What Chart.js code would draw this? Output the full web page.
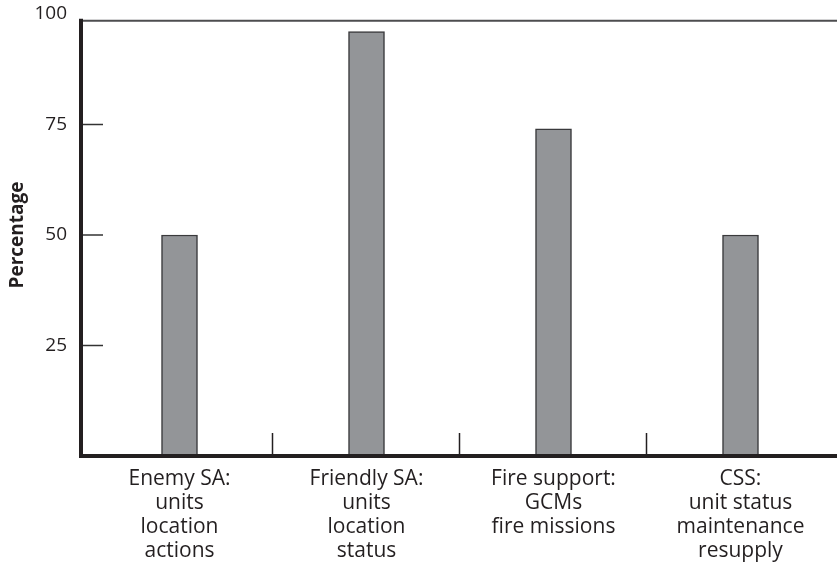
<!DOCTYPE html>
<html>
<head>
<meta charset="utf-8">
<script src="https://cdn.jsdelivr.net/npm/chart.js@4"></script>
<style>
  html, body { margin: 0; padding: 0; background: #ffffff; }
  #wrap { width: 837px; height: 562px; }
</style>
</head>
<body>
<div id="wrap"><canvas id="pctChart" width="837" height="562"></canvas></div>
<script>
const categories = [
    ['Enemy SA:', 'units', 'location', 'actions'],
    ['Friendly SA:', 'units', 'location', 'status'],
    ['Fire support:', 'GCMs', 'fire missions'],
    ['CSS:', 'unit status', 'maintenance', 'resupply']
];
const percentages = [50, 96, 74, 50];
const yTicks = [25, 50, 75, 100];

const inkColor = '#231f20';

// axis lines, inward ticks and category separators
const frameLines = {
    id: 'frameLines',
    afterDatasetsDraw(chart) {
        const ctx = chart.ctx;
        const x = chart.scales.x;
        const y = chart.scales.y;
        const area = chart.chartArea;
        const axisX = area.left - 5;
        const topY = y.getPixelForValue(98.5);
        const baseY = y.getPixelForValue(0);
        ctx.save();

        // top border
        ctx.strokeStyle = '#4d4d4f';
        ctx.lineWidth = 2;
        ctx.beginPath();
        ctx.moveTo(axisX, topY);
        ctx.lineTo(chart.width, topY);
        ctx.stroke();

        // y tick marks (inside)
        ctx.strokeStyle = '#333333';
        ctx.lineWidth = 1.5;
        yTicks.filter(v => v < 98).forEach(v => {
            const py = y.getPixelForValue(v);
            ctx.beginPath();
            ctx.moveTo(axisX, py);
            ctx.lineTo(axisX + 22, py);
            ctx.stroke();
        });

        // separators between categories
        ctx.strokeStyle = inkColor;
        for (let i = 0; i < categories.length - 1; i++) {
            const px = Math.round((x.getPixelForValue(i) + x.getPixelForValue(i + 1)) / 2) - 0.5;
            ctx.beginPath();
            ctx.moveTo(px, baseY);
            ctx.lineTo(px, baseY - 23);
            ctx.stroke();
        }

        // heavy left and bottom axes
        ctx.strokeStyle = inkColor;
        ctx.lineWidth = 4;
        ctx.lineCap = 'square';
        ctx.beginPath();
        ctx.moveTo(axisX, topY);
        ctx.lineTo(axisX, baseY);
        ctx.lineTo(chart.width, baseY);
        ctx.stroke();
        ctx.restore();
    }
};

const ctx = document.getElementById('pctChart').getContext('2d');
const pctChart = new Chart(ctx, {
    type: 'bar',
    data: {
        labels: categories,
        datasets: [{
            label: 'Percentage',
            data: percentages,
            backgroundColor: '#939598',
            borderColor: '#3a3a3c',
            borderWidth: 1.5,
            barThickness: 36
        }]
    },
    options: {
        responsive: false,
        animation: false,
        devicePixelRatio: 1,
        layout: {
            padding: { top: 14, right: 3, left: 0, bottom: 0 }
        },
        plugins: {
            legend: { display: false },
            tooltip: { enabled: false }
        },
        scales: {
            x: {
                afterFit: function(scale) { scale.height = 106; },
                grid: { display: false, drawTicks: false },
                border: { display: false },
                ticks: {
                    color: inkColor,
                    padding: 11,
                    maxRotation: 0,
                    autoSkip: false,
                    font: { family: 'Open Sans', size: 21, lineHeight: 1.14 }
                }
            },
            y: {
                min: 0,
                max: 100,
                afterFit: function(scale) { scale.width = 86; },
                afterBuildTicks: function(scale) {
                    scale.ticks = yTicks.map(v => ({ value: v }));
                },
                grid: {
                    display: true,
                    drawOnChartArea: false,
                    drawTicks: true,
                    tickLength: 19,
                    color: 'rgba(0,0,0,0)'
                },
                border: { display: false },
                ticks: {
                    color: inkColor,
                    padding: 0,
                    font: { family: 'Open Sans', size: 19 }
                },
                title: {
                    display: true,
                    text: 'Percentage',
                    color: inkColor,
                    padding: { top: 6, bottom: 0 },
                    font: { family: 'Open Sans', size: 19, weight: 'bold' }
                }
            }
        }
    },
    plugins: [frameLines]
});
</script>
</body>
</html>
